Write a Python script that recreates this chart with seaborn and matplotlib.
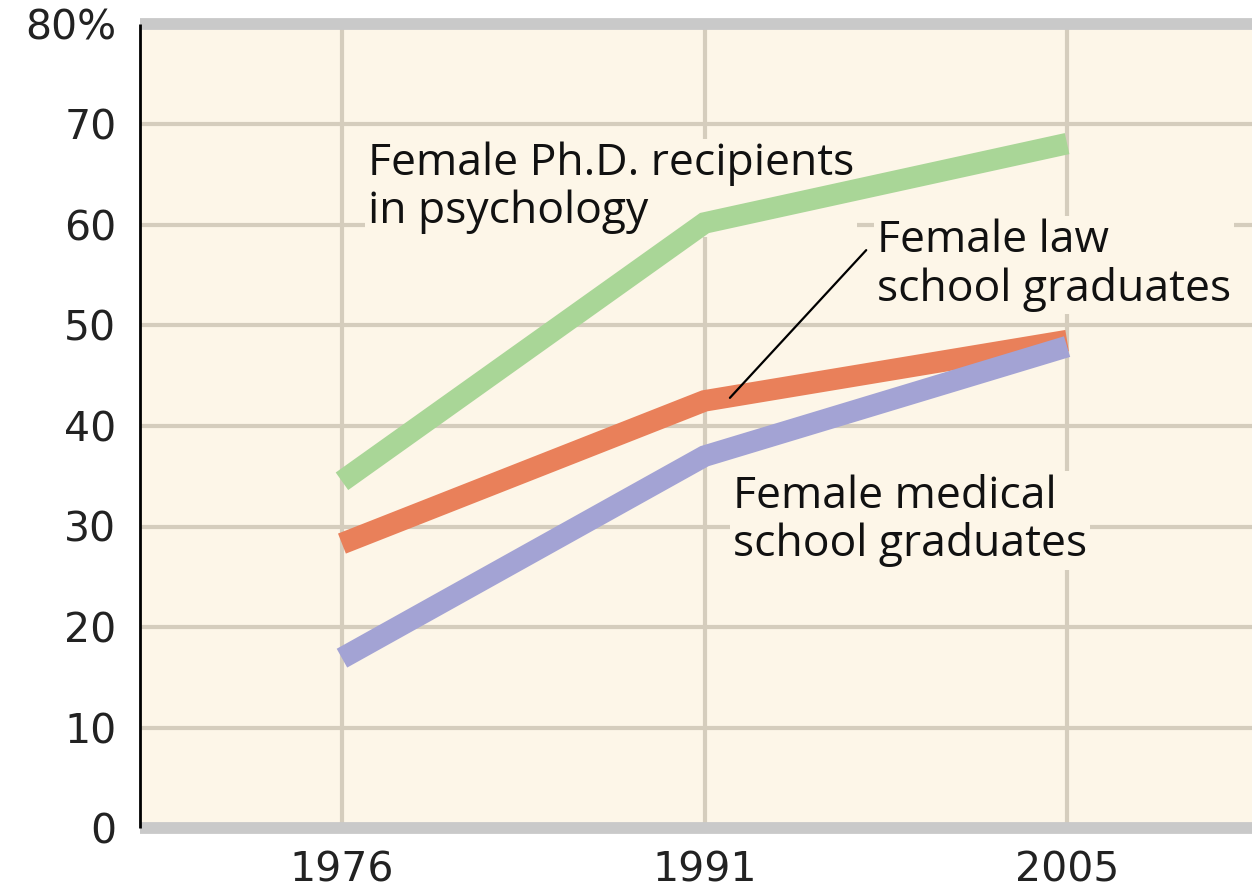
import matplotlib
matplotlib.use("Agg")
import matplotlib.pyplot as plt
import seaborn as sns
import pandas as pd

years = ["1976", "1991", "2005"]
series_names = ["Female Ph.D. recipients\nin psychology",
                "Female law\nschool graduates",
                "Female medical\nschool graduates"]
phd_psych = [34.5, 60.2, 68.1]
law_grads = [28.3, 42.5, 48.5]
med_grads = [16.9, 37.0, 47.9]
y_ticks = [0, 10, 20, 30, 40, 50, 60, 70, 80]
y_tick_labels = ["0", "10", "20", "30", "40", "50", "60", "70", "80%"]

colors = ["#a9d697", "#e9805a", "#a3a3d4"]
bg = "#fdf6e8"
grid_c = "#d5cdbd"

df = pd.DataFrame({
    "year": years * 3,
    "value": phd_psych + law_grads + med_grads,
    "series": [series_names[0]] * 3 + [series_names[1]] * 3 + [series_names[2]] * 3,
})

sns.set_theme(style="white")
plt.rcParams["font.family"] = ["DejaVu Sans"]

fig = plt.figure(figsize=(12.52, 8.90), dpi=100)
ax = fig.add_axes([140 / 1252, 62 / 890, 1 - 140 / 1252, (828 - 24) / 890])
ax.set_facecolor(bg)

sns.lineplot(data=df, x="year", y="value", hue="series", palette=colors,
             hue_order=series_names, linewidth=15.5, ax=ax, legend=False,
             sort=False)
for ln in ax.get_lines():
    ln.set_solid_capstyle("butt")
    ln.set_solid_joinstyle("miter")
    ln.set_zorder(3)

ax.set_ylim(0, 80)
ax.set_xlim(-0.557, 2.51)
ax.set_yticks(y_ticks)
ax.set_yticklabels(y_tick_labels)
ax.set_xticks(range(len(years)))
ax.set_xticklabels(years)
ax.tick_params(axis="both", length=0, labelsize=29.5, colors="#222222")
ax.tick_params(axis="y", pad=17)
ax.tick_params(axis="x", pad=16)
ax.set_xlabel("")
ax.set_ylabel("")

# grid
for v in y_ticks[1:-1]:
    ax.axhline(v, color=grid_c, lw=3, zorder=1)
for i in range(len(years)):
    ax.axvline(i, color=grid_c, lw=3, zorder=1)

for s in ["top", "bottom"]:
    ax.spines[s].set_color("#c9c9c9")
    ax.spines[s].set_linewidth(8.5)
    ax.spines[s].set_capstyle("butt")
ax.spines["right"].set_visible(False)
ax.spines["left"].set_color("black")
ax.spines["left"].set_linewidth(2)
ax.spines["left"].set_capstyle("butt")
ax.spines["left"].set_zorder(5)

font_lbl = dict(family=["Open Sans", "DejaVu Sans"], fontsize=32, color="#111111",
                linespacing=1.1, zorder=2)
box = dict(facecolor=bg, edgecolor="none", pad=2)
ax.text(0.072, 63.7, series_names[0], ha="left", va="center", bbox=box, **font_lbl)
ax.text(1.476, 56.0, series_names[1], ha="left", va="center", bbox=box, **font_lbl)
ax.text(1.079, 30.6, series_names[2], ha="left", va="center", bbox=box, **font_lbl)
ax.plot([1.070, 1.446], [42.8, 57.5], color="black", lw=1.6, zorder=4)

fig.savefig("out.png", dpi=100, facecolor="white")
